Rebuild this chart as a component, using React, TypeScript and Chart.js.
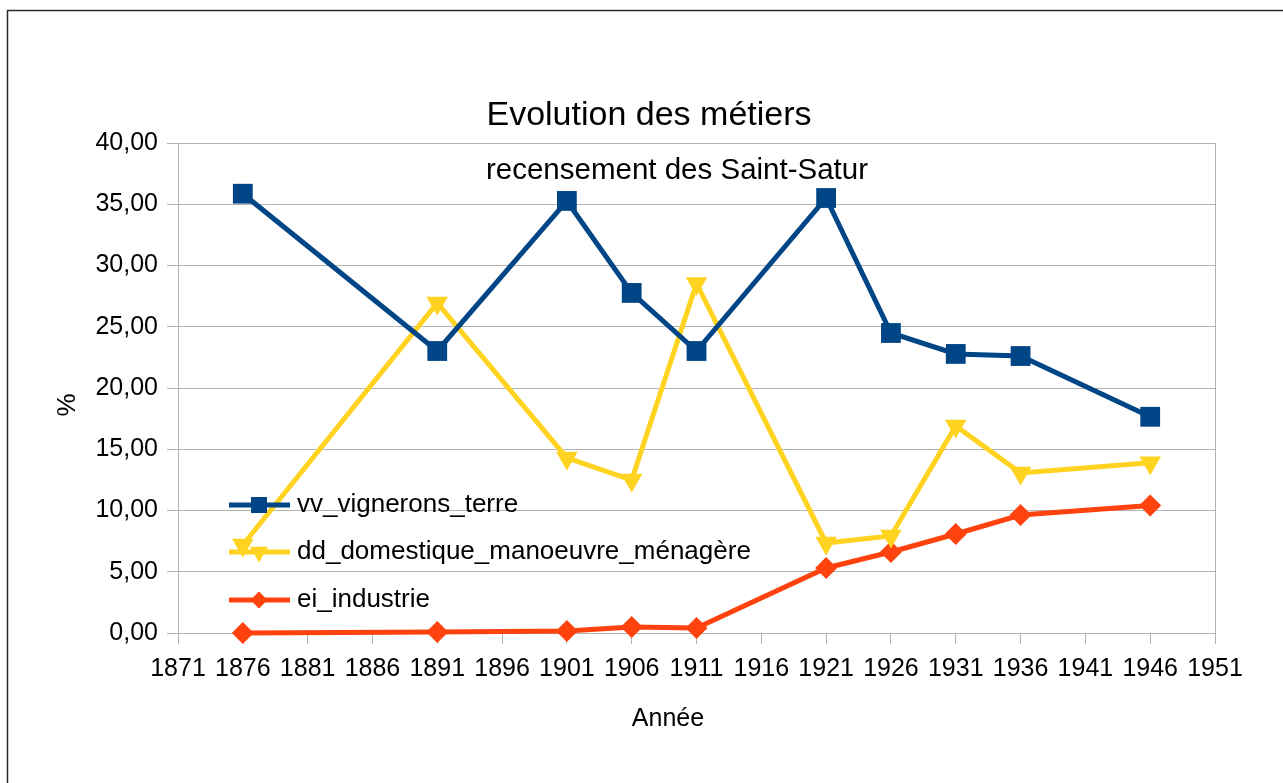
import React, { useEffect, useRef } from "react";
import { Chart, registerables } from "chart.js";

Chart.register(...registerables);

const years = [1876, 1891, 1901, 1906, 1911, 1921, 1926, 1931, 1936, 1946];
const vignerons = [35.86, 23.02, 35.27, 27.76, 23.02, 35.51, 24.49, 22.78, 22.61, 17.65];
const domestique = [7.18, 26.94, 14.29, 12.49, 28.53, 7.35, 7.92, 16.9, 13.06, 13.9];
const industrie = [0.0, 0.08, 0.16, 0.49, 0.41, 5.31, 6.61, 8.08, 9.63, 10.41];

const seriesNames = ["vv_vignerons_terre", "dd_domestique_manoeuvre_ménagère", "ei_industrie"];
const seriesColors = ["#004586", "#ffd320", "#ff420e"];

const titleText = "Evolution des métiers";
const subtitleText = "recensement des Saint-Satur";
const xTitle = "Année";
const yTitle = "%";

const FONT = "'Liberation Sans', Arial, sans-serif";

function toPoints(vals: number[]) {
  return years.map((y, i) => ({ x: y, y: vals[i] }));
}

const decorPlugin = {
  id: "decor",
  beforeDraw(chart: any) {
    const ctx = chart.ctx;
    ctx.save();
    ctx.fillStyle = "#ffffff";
    ctx.fillRect(0, 0, chart.width, chart.height);
    ctx.restore();
  },
  afterDraw(chart: any) {
    const ctx = chart.ctx;
    const area = chart.chartArea;
    ctx.save();
    // right plot border
    ctx.strokeStyle = "#b3b3b3";
    ctx.lineWidth = 1;
    ctx.beginPath();
    ctx.moveTo(Math.round(area.right) + 0.5, area.top);
    ctx.lineTo(Math.round(area.right) + 0.5, area.bottom);
    ctx.stroke();

    // outer border
    ctx.strokeStyle = "#2a2a2a";
    ctx.lineWidth = 1.5;
    ctx.strokeRect(7.5, 10.5, chart.width + 20, chart.height + 20);

    // titles
    ctx.fillStyle = "#000000";
    ctx.textAlign = "center";
    ctx.textBaseline = "alphabetic";
    ctx.font = `34px ${FONT}`;
    ctx.fillText(titleText, 649, 125);
    ctx.font = `29.5px ${FONT}`;
    ctx.fillText(subtitleText, 677, 179);

    // axis titles
    ctx.font = `25px ${FONT}`;
    ctx.fillText(xTitle, 668, 726);
    ctx.save();
    ctx.translate(75, 405);
    ctx.rotate(-Math.PI / 2);
    ctx.font = `26px ${FONT}`;
    ctx.fillText(yTitle, 0, 0);
    ctx.restore();

    // legend
    const rows = [505, 552, 600];
    rows.forEach((ry, i) => {
      const c = seriesColors[i];
      ctx.strokeStyle = c;
      ctx.fillStyle = c;
      ctx.lineWidth = 5;
      ctx.beginPath();
      ctx.moveTo(229, ry);
      ctx.lineTo(290, ry);
      ctx.stroke();
      const cx = 259;
      ctx.beginPath();
      if (i === 0) {
        ctx.rect(cx - 8, ry - 8, 16, 16);
      } else if (i === 1) {
        const r = 10.5;
        ctx.moveTo(cx - r * 0.866, ry - r * 0.5);
        ctx.lineTo(cx + r * 0.866, ry - r * 0.5);
        ctx.lineTo(cx, ry + r);
        ctx.closePath();
      } else {
        const r = 8.5;
        ctx.moveTo(cx - r, ry);
        ctx.lineTo(cx, ry - r);
        ctx.lineTo(cx + r, ry);
        ctx.lineTo(cx, ry + r);
        ctx.closePath();
      }
      ctx.fill();
      ctx.fillStyle = "#000000";
      ctx.textAlign = "left";
      ctx.textBaseline = "middle";
      ctx.font = `26px ${FONT}`;
      ctx.fillText(seriesNames[i], 297, ry);
    });
    ctx.restore();
  },
};

export default function App() {
  const canvasRef = useRef<HTMLCanvasElement | null>(null);

  useEffect(() => {
    if (!canvasRef.current) return;
    const datasetsSrc = [vignerons, domestique, industrie];
    const styles = ["rect", "triangle", "rectRot"];
    const radii = [14, 12.5, 11];
    const rotations = [0, 180, 0];
    const chart = new Chart(canvasRef.current, {
      type: "line",
      data: {
        datasets: datasetsSrc.map((vals, i) => ({
          label: seriesNames[i],
          data: toPoints(vals),
          borderColor: seriesColors[i],
          backgroundColor: seriesColors[i],
          borderWidth: 5,
          pointStyle: styles[i] as any,
          pointRadius: radii[i],
          pointHoverRadius: radii[i],
          pointRotation: rotations[i],
          pointBorderWidth: 0,
          pointBackgroundColor: seriesColors[i],
          tension: 0,
          fill: false,
          clip: false as any,
        })),
      },
      options: {
        responsive: false,
        animation: false,
        devicePixelRatio: 1,
        layout: { padding: { left: 0, top: 143, right: 68, bottom: 0 } },
        plugins: {
          legend: { display: false },
          title: { display: false },
          tooltip: { enabled: false },
        },
        events: [],
        scales: {
          x: {
            type: "linear",
            min: 1871,
            max: 1951,
            afterFit: (scale: any) => {
              scale.height = 150;
            },
            ticks: {
              stepSize: 5,
              autoSkip: false,
              maxRotation: 0,
              minRotation: 0,
              padding: 10,
              color: "#000000",
              font: { family: "'Liberation Sans Narrow', 'Liberation Sans', sans-serif", size: 25 },
              callback: (v: any) => String(v),
            },
            grid: {
              drawOnChartArea: false,
              drawTicks: true,
              tickLength: 11,
              color: "#b3b3b3",
              lineWidth: 1,
            },
            border: { display: true, color: "#b3b3b3", width: 1 },
          },
          y: {
            type: "linear",
            min: 0,
            max: 40,
            afterFit: (scale: any) => {
              scale.width = 178;
            },
            ticks: {
              stepSize: 5,
              padding: 9,
              color: "#000000",
              font: { family: FONT, size: 25 },
              callback: (v: any) => Number(v).toFixed(2).replace(".", ","),
            },
            grid: {
              drawOnChartArea: true,
              drawTicks: true,
              tickLength: 11,
              color: "#b3b3b3",
              lineWidth: 1,
            },
            border: { display: true, color: "#b3b3b3", width: 1 },
          },
        },
      },
      plugins: [decorPlugin],
    });
    return () => chart.destroy();
  }, []);

  return (
    <div style={{ position: "absolute", left: 0, top: 0, width: 1283, height: 783, overflow: "hidden" }}>
      <canvas ref={canvasRef} width={1283} height={783} style={{ display: "block", width: 1283, height: 783 }} />
    </div>
  );
}
